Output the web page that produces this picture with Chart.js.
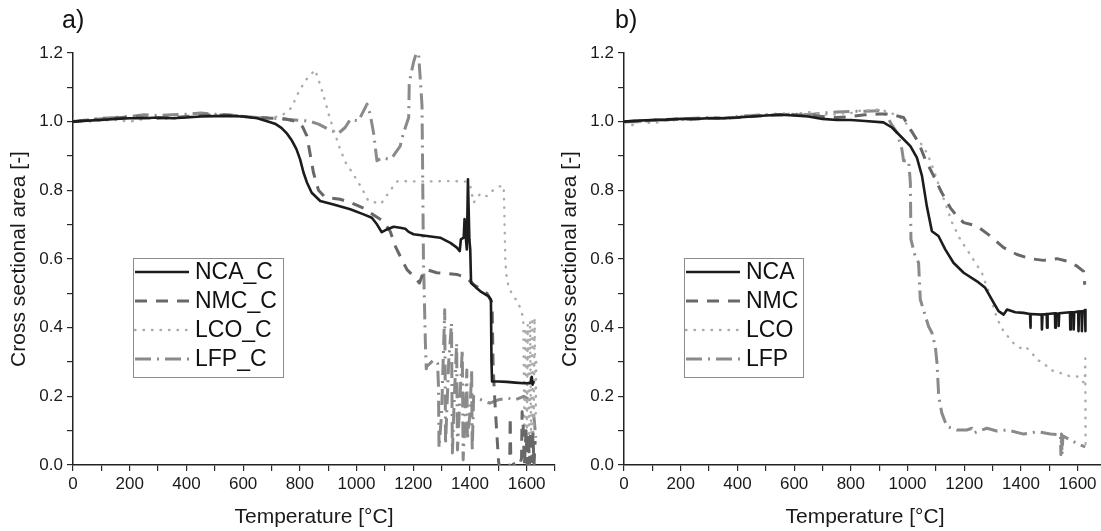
<!DOCTYPE html>
<html>
<head>
    <title>Cross sectional area vs temperature</title>
    <script src="https://cdn.jsdelivr.net/npm/chart.js"></script>
    <style>
        body { margin: 0; background: #fff; overflow: hidden; width: 1101px; height: 531px; position: relative; }
        .panel { position: absolute; top: 0; width: 560px; height: 531px; }
        .tag { position: absolute; top: 5px; font: 25px "Liberation Sans", Arial, sans-serif; color: #111; }
    </style>
</head>
<body>
    <div class="panel" style="left:0"><canvas id="plotA" width="560" height="531"></canvas></div>
    <div class="panel" style="left:551px"><canvas id="plotB" width="560" height="531"></canvas></div>
    <div class="tag" style="left:62px">a)</div>
    <div class="tag" style="left:615px">b)</div>

    <script>
        // panel a) [temperature °C, relative area]
        const ncaA = [[0,1.0],[50,1.003],[100,1.005],[150,1.008],[200,1.01],[250,1.01],[300,1.012],[350,1.01],[400,1.012],[450,1.015],[500,1.016],[550,1.017],[600,1.015],[650,1.01],[690,1.0],[715,0.993],[735,0.982],[755,0.965],[772,0.945],[788,0.92],[801,0.89],[813,0.852],[825,0.823],[842,0.793],[872,0.769],[919,0.759],[978,0.745],[1025,0.73],[1054,0.72],[1072,0.701],[1089,0.678],[1107,0.686],[1131,0.694],[1154,0.691],[1172,0.688],[1184,0.679],[1201,0.672],[1248,0.667],[1295,0.662],[1331,0.647],[1354,0.633],[1364,0.623],[1368,0.657],[1378,0.662],[1381,0.716],[1386,0.657],[1389,0.628],[1393,0.832],[1398,0.657],[1401,0.628],[1404,0.53],[1420,0.518],[1437,0.506],[1466,0.491],[1474,0.482],[1476,0.3],[1478,0.243],[1500,0.243],[1530,0.242],[1560,0.24],[1590,0.238],[1613,0.238],[1618,0.257],[1621,0.234],[1625,0.245]];
        const nmcA = [[0,1.0],[50,1.005],[100,1.008],[150,1.01],[200,1.015],[250,1.012],[300,1.01],[350,1.012],[400,1.015],[450,1.018],[500,1.02],[550,1.018],[600,1.015],[650,1.012],[700,1.01],[750,1.008],[790,1.0],[810,0.985],[825,0.958],[848,0.852],[866,0.8],[889,0.78],[942,0.774],[978,0.765],[1033,0.745],[1048,0.735],[1095,0.71],[1119,0.68],[1137,0.637],[1154,0.608],[1178,0.569],[1207,0.545],[1222,0.53],[1235,0.56],[1248,0.569],[1283,0.56],[1354,0.555],[1389,0.545],[1413,0.526],[1424,0.52],[1460,0.5],[1478,0.473],[1482,0.28],[1489,0.17],[1501,0.01],[1510,-0.03],[1540,-0.01],[1542,0.14],[1544,0.02],[1570,-0.02],[1582,0.02],[1584,0.155],[1588,0.11],[1592,0.0],[1598,0.1],[1602,0.0],[1606,0.09],[1610,0.0],[1614,0.1],[1618,0.01],[1622,0.09],[1626,0.0],[1630,0.07]];
        const lcoA = [[0,1.005],[50,1.0],[100,1.003],[150,1.005],[200,1.0],[250,1.008],[300,1.01],[350,1.008],[400,1.012],[450,1.02],[500,1.018],[550,1.02],[600,1.015],[650,1.01],[700,1.01],[740,1.02],[770,1.04],[794,1.083],[819,1.119],[854,1.151],[872,1.107],[889,1.061],[905,1.012],[940,0.925],[960,0.883],[987,0.849],[1015,0.811],[1042,0.769],[1087,0.761],[1117,0.798],[1145,0.827],[1200,0.826],[1260,0.826],[1320,0.827],[1371,0.826],[1390,0.825],[1401,0.815],[1413,0.764],[1437,0.791],[1460,0.783],[1478,0.798],[1501,0.811],[1519,0.813],[1521,0.754],[1525,0.589],[1530,0.545],[1537,0.516],[1554,0.491],[1572,0.472],[1578,0.453],[1588,0.43],[1592,0.08],[1596,0.4],[1600,0.05],[1604,0.41],[1608,0.03],[1612,0.42],[1616,0.05],[1620,0.43],[1624,0.02],[1628,0.43],[1632,0.15],[1634,0.3]];
        const lfpA = [[0,1.0],[50,1.005],[100,1.01],[150,1.012],[200,1.015],[250,1.02],[300,1.018],[350,1.02],[400,1.022],[450,1.025],[500,1.022],[550,1.02],[600,1.015],[650,1.012],[707,1.01],[782,1.005],[831,1.002],[866,0.993],[901,0.978],[936,0.966],[960,0.983],[978,1.007],[1007,1.002],[1037,1.051],[1048,1.022],[1060,0.968],[1072,0.886],[1090,0.895],[1113,0.891],[1125,0.895],[1154,0.929],[1166,0.968],[1184,1.012],[1186,1.114],[1201,1.173],[1211,1.2],[1219,1.197],[1231,1.046],[1236,0.6],[1243,0.35],[1246,0.28],[1248,0.287],[1272,0.306],[1286,0.296],[1289,0.228],[1291,0.05],[1300,0.15],[1311,0.452],[1314,0.06],[1325,0.3],[1335,0.413],[1338,0.035],[1345,0.2],[1353,0.355],[1356,0.044],[1365,0.2],[1373,0.336],[1376,0.015],[1383,0.15],[1389,0.277],[1391,0.073],[1400,0.15],[1406,0.277],[1408,0.04],[1413,0.2],[1440,0.19],[1470,0.18],[1500,0.19],[1530,0.195],[1560,0.19],[1590,0.2],[1610,0.19],[1622,0.17],[1628,0.12],[1632,0.08]];

        // panel b)
        const ncaB = [[0,1.0],[50,1.003],[100,1.005],[150,1.006],[200,1.008],[250,1.008],[300,1.01],[350,1.01],[400,1.012],[450,1.015],[500,1.018],[550,1.02],[600,1.018],[650,1.015],[700,1.008],[750,1.005],[800,1.005],[850,1.002],[915,0.998],[945,0.983],[974,0.959],[1010,0.929],[1033,0.895],[1051,0.842],[1068,0.754],[1086,0.681],[1109,0.667],[1133,0.628],[1162,0.589],[1198,0.56],[1245,0.535],[1274,0.516],[1304,0.472],[1321,0.448],[1339,0.438],[1351,0.453],[1380,0.445],[1409,0.443],[1432,0.44],[1433,0.4],[1435,0.44],[1473,0.438],[1474,0.395],[1476,0.438],[1491,0.44],[1492,0.4],[1494,0.44],[1520,0.442],[1521,0.4],[1523,0.442],[1532,0.44],[1533,0.405],[1535,0.442],[1573,0.445],[1574,0.395],[1576,0.445],[1585,0.445],[1586,0.395],[1588,0.445],[1602,0.447],[1603,0.39],[1605,0.447],[1614,0.448],[1615,0.39],[1617,0.448],[1626,0.45],[1627,0.39],[1628,0.455]];
        const nmcB = [[0,1.0],[50,1.002],[100,1.004],[150,1.006],[200,1.008],[250,1.008],[300,1.01],[350,1.01],[400,1.012],[450,1.015],[500,1.018],[550,1.02],[600,1.02],[650,1.018],[700,1.015],[750,1.012],[800,1.015],[850,1.02],[900,1.022],[939,1.022],[986,1.012],[1010,0.978],[1039,0.939],[1062,0.891],[1092,0.842],[1121,0.793],[1151,0.749],[1174,0.725],[1198,0.706],[1245,0.696],[1292,0.667],[1339,0.633],[1386,0.613],[1433,0.601],[1480,0.596],[1527,0.601],[1562,0.594],[1598,0.579],[1621,0.564],[1625,0.525]];
        const lcoB = [[0,0.995],[30,0.99],[60,1.0],[100,0.995],[150,1.003],[200,1.005],[250,1.005],[300,1.01],[350,1.008],[400,1.015],[450,1.02],[500,1.02],[550,1.025],[600,1.022],[650,1.028],[700,1.02],[750,1.022],[800,1.025],[833,1.032],[904,1.036],[951,1.022],[986,1.007],[1015,0.968],[1045,0.939],[1068,0.91],[1092,0.861],[1115,0.803],[1139,0.749],[1157,0.706],[1186,0.657],[1221,0.613],[1262,0.56],[1292,0.491],[1315,0.428],[1339,0.389],[1374,0.355],[1398,0.341],[1415,0.346],[1439,0.326],[1456,0.307],[1480,0.297],[1504,0.277],[1539,0.268],[1574,0.258],[1598,0.258],[1615,0.243],[1625,0.24],[1627,0.31],[1628,0.055]];
        const lfpB = [[0,1.0],[50,1.0],[100,1.005],[150,1.005],[200,1.008],[250,1.01],[300,1.012],[350,1.01],[400,1.015],[450,1.018],[500,1.02],[550,1.02],[600,1.022],[650,1.02],[700,1.025],[750,1.028],[800,1.03],[850,1.03],[900,1.032],[925,1.02],[945,0.99],[963,0.968],[980,0.92],[986,0.886],[1004,0.886],[1010,0.822],[1012,0.657],[1027,0.608],[1039,0.589],[1045,0.482],[1057,0.45],[1074,0.404],[1086,0.385],[1098,0.345],[1104,0.297],[1110,0.2],[1121,0.151],[1139,0.112],[1174,0.102],[1209,0.102],[1227,0.107],[1233,0.093],[1280,0.107],[1315,0.099],[1351,0.102],[1410,0.09],[1457,0.097],[1504,0.09],[1539,0.088],[1541,0.03],[1543,0.09],[1545,0.03],[1548,0.085],[1574,0.073],[1610,0.058],[1627,0.053]];

        const labelsA = ['NCA_C', 'NMC_C', 'LCO_C', 'LFP_C'];
        const labelsB = ['NCA', 'NMC', 'LCO', 'LFP'];

        const xMax = 1700;
        const yMax = 1.2;
        const fontFamily = '"Liberation Sans", Arial, sans-serif';

        // line looks, same order as the labels
        const looks = [
            { borderColor: '#1c1c1c', borderWidth: 2.6, borderDash: [] },
            { borderColor: '#686868', borderWidth: 3, borderDash: [12, 9] },
            { borderColor: '#ababab', borderWidth: 2.4, borderDash: [0.5, 8], borderCapStyle: 'round' },
            { borderColor: '#8a8a8a', borderWidth: 3, borderDash: [16, 6, 2, 6] }
        ];

        // boxed legend inside the plot area, like the original figure
        const boxLegend = {
            id: 'boxLegend',
            afterDatasetsDraw(chart, args, opts) {
                const ctx = chart.ctx;
                ctx.save();
                ctx.fillStyle = '#fff';
                ctx.fillRect(opts.x, opts.y, opts.w, opts.h);
                ctx.strokeStyle = '#8c8c8c';
                ctx.lineWidth = 1;
                ctx.strokeRect(opts.x + 0.5, opts.y + 0.5, opts.w, opts.h);
                chart.data.datasets.forEach((ds, i) => {
                    const y = opts.y + 14 + i * 29;
                    ctx.beginPath();
                    ctx.setLineDash(ds.borderDash || []);
                    ctx.lineCap = ds.borderCapStyle || 'butt';
                    ctx.strokeStyle = ds.borderColor;
                    ctx.lineWidth = ds.borderWidth;
                    ctx.moveTo(opts.x + 2, y);
                    ctx.lineTo(opts.x + 56, y);
                    ctx.stroke();
                    ctx.setLineDash([]);
                    ctx.fillStyle = '#111';
                    ctx.font = '23px ' + fontFamily;
                    ctx.textBaseline = 'middle';
                    ctx.fillText(ds.label, opts.x + 62, y + 1);
                });
                ctx.restore();
            }
        };

        function makeDatasets(series, labels) {
            return series.map((pts, i) => Object.assign({
                label: labels[i],
                data: pts.map(p => ({ x: p[0], y: p[1] })),
                pointRadius: 0,
                tension: 0,
                borderJoinStyle: 'round',
                fill: false
            }, looks[i]));
        }

        function axisStyle() {
            return {
                display: true,
                drawOnChartArea: false,
                drawTicks: true,
                tickLength: 6,
                color: '#2a2a2a',
                lineWidth: 1.2
            };
        }

        function drawPanel(id, series, labels, legendWidth) {
            return new Chart(document.getElementById(id).getContext('2d'), {
                type: 'line',
                data: { datasets: makeDatasets(series, labels) },
                options: {
                    responsive: false,
                    animation: false,
                    events: [],
                    layout: { padding: { top: 53, right: 5, left: 0, bottom: 0 } },
                    scales: {
                        x: {
                            type: 'linear',
                            min: 0,
                            max: xMax,
                            grid: axisStyle(),
                            border: { display: true, color: '#222', width: 1.5 },
                            ticks: {
                                stepSize: 100,
                                autoSkip: false,
                                maxRotation: 0,
                                padding: 3,
                                color: '#1a1a1a',
                                font: { family: fontFamily, size: 17 },
                                callback: v => (v % 200 === 0 && v <= 1600) ? String(v) : ''
                            },
                            title: {
                                display: true,
                                text: 'Temperature [°C]',
                                color: '#1a1a1a',
                                font: { family: fontFamily, size: 21 },
                                padding: { top: 0, bottom: 1 }
                            },
                            afterFit: s => { s.height = 66; }
                        },
                        y: {
                            min: 0,
                            max: yMax,
                            grid: axisStyle(),
                            border: { display: true, color: '#222', width: 1.5 },
                            ticks: {
                                stepSize: 0.1,
                                autoSkip: false,
                                padding: 4,
                                color: '#1a1a1a',
                                font: { family: fontFamily, size: 17 },
                                callback: v => {
                                    const r = Math.round(v * 10);
                                    return r % 2 === 0 ? (r / 10).toFixed(1) : '';
                                }
                            },
                            title: {
                                display: true,
                                text: 'Cross sectional area [-]',
                                color: '#1a1a1a',
                                font: { family: fontFamily, size: 21 },
                                padding: { top: 7, bottom: 0 }
                            },
                            afterFit: s => { s.width = 73; }
                        }
                    },
                    plugins: {
                        legend: { display: false },
                        tooltip: { enabled: false },
                        boxLegend: { x: 133, y: 258, w: legendWidth, h: 119 }
                    }
                },
                plugins: [boxLegend]
            });
        }

        drawPanel('plotA', [ncaA, nmcA, lcoA, lfpA], labelsA, 150);
        drawPanel('plotB', [ncaB, nmcB, lcoB, lfpB], labelsB, 119);
    </script>
</body>
</html>
